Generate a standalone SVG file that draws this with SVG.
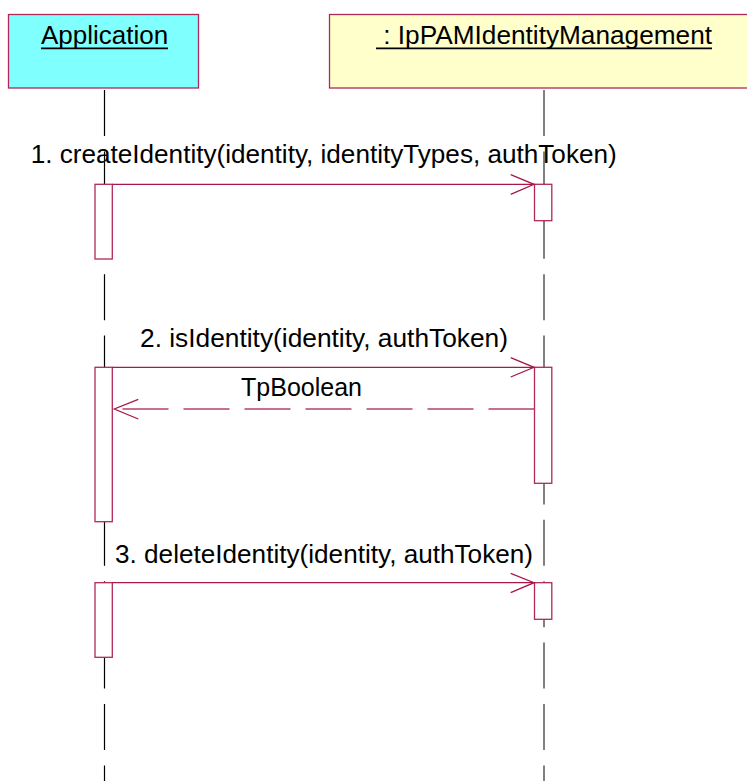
<svg xmlns="http://www.w3.org/2000/svg" width="747" height="781" viewBox="0 0 747 781">
<style>
.hdr{stroke:#B0285A;stroke-width:1.3}
.txt{font-family:"Liberation Sans",Arial,sans-serif;font-size:26px;fill:#000}
.ul{stroke:#000;stroke-width:1.7}
.act{fill:#fff;stroke:#B0285A;stroke-width:1.3}
.msg{fill:none;stroke:#A8184A;stroke-width:1.3}
.ret{fill:none;stroke:#B8406A;stroke-width:1.5;stroke-dasharray:46 15}
.life1{stroke:#000;stroke-width:1.2;stroke-dasharray:46 15.4}
.life2{stroke:#808080;stroke-width:2;stroke-dasharray:46 15.4}
</style>
<rect width="747" height="781" fill="#fff"/>
<g id="Application">
<line class="life1" x1="104.5" y1="90" x2="104.5" y2="781"/>
<rect class="hdr" x="8.5" y="14.5" width="190" height="73.5" fill="#80FFFF"/>
<text class="txt" x="104.5" y="44" text-anchor="middle">Application</text>
<line class="ul" x1="41" y1="48.3" x2="168" y2="48.3"/>
<rect class="act" x="95" y="184.3" width="17.3" height="74.7"/>
<rect class="act" x="95" y="367.3" width="17.3" height="154.4"/>
<rect class="act" x="95" y="582.7" width="17.3" height="74.6"/>
</g>
<g id="IpPAMIdentityManagement">
<line class="life2" x1="544" y1="90" x2="544" y2="781"/>
<rect class="hdr" x="329.5" y="14.5" width="430" height="73.5" fill="#FFFFCC"/>
<text class="txt" x="376" y="44" textLength="336" lengthAdjust="spacingAndGlyphs" xml:space="preserve"> : IpPAMIdentityManagement</text>
<line class="ul" x1="376" y1="48.3" x2="712" y2="48.3"/>
<rect class="act" x="534.5" y="184.3" width="17.3" height="36.4"/>
<rect class="act" x="534.5" y="367.3" width="17.3" height="116"/>
<rect class="act" x="534.5" y="582.7" width="17.3" height="36.6"/>
</g>
<g id="connectors">
<g id="m1">
<line class="msg" x1="112.3" y1="184.3" x2="534.5" y2="184.3"/>
<polyline class="msg" points="510.7,174.7 534,184.3 510.7,194.3"/>
<text class="txt" x="30.7" y="163.3" textLength="586" lengthAdjust="spacingAndGlyphs">1. createIdentity(identity, identityTypes, authToken)</text>
</g>
<g id="m2">
<line class="msg" x1="112.3" y1="367.3" x2="534.5" y2="367.3"/>
<polyline class="msg" points="510.7,357.7 534,367.3 510.7,377"/>
<text class="txt" x="140" y="347" textLength="368" lengthAdjust="spacingAndGlyphs">2. isIdentity(identity, authToken)</text>
</g>
<g id="r2">
<line class="ret" x1="534.5" y1="409" x2="114.3" y2="409"/>
<polyline class="msg" points="138.3,399.3 114.3,409 138.3,419"/>
<text class="txt" x="241" y="396" textLength="121" lengthAdjust="spacingAndGlyphs">TpBoolean</text>
</g>
<g id="m3">
<line class="msg" x1="112.3" y1="582.7" x2="534.5" y2="582.7"/>
<polyline class="msg" points="510.7,573.3 534,582.7 510.7,592.7"/>
<text class="txt" x="115" y="563.3" textLength="418" lengthAdjust="spacingAndGlyphs">3. deleteIdentity(identity, authToken)</text>
</g>
</g>
</svg>
